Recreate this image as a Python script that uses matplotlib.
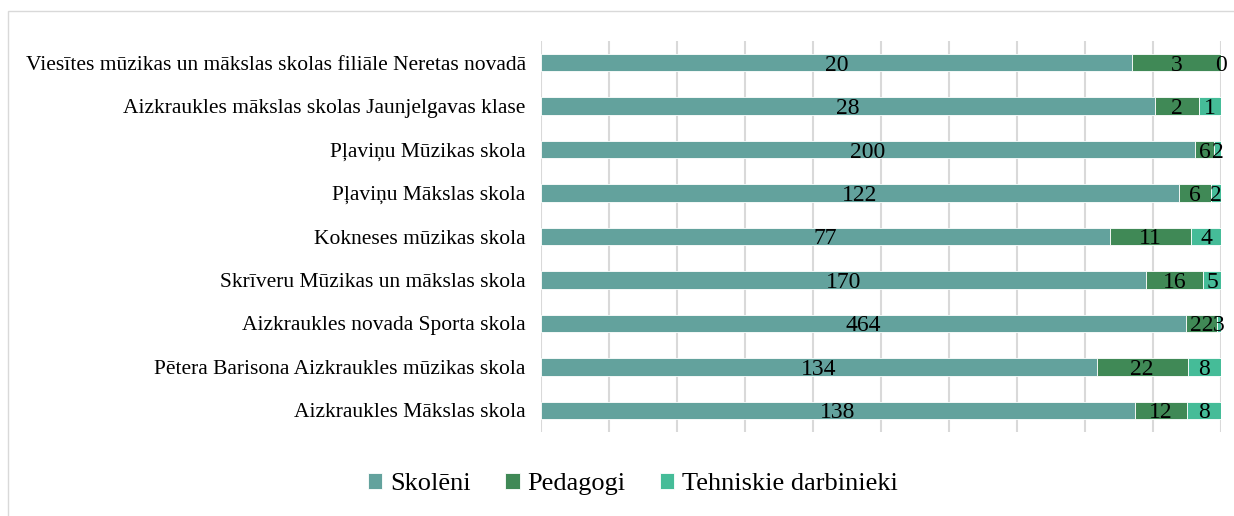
import matplotlib
matplotlib.use("Agg")
import matplotlib.pyplot as plt
from matplotlib.patches import Rectangle
import numpy as np

plt.rcParams['font.family'] = ['Liberation Serif', 'DejaVu Serif']

# schools, top to bottom as in the chart
schools = [
    "Viesītes mūzikas un mākslas skolas filiāle Neretas novadā",
    "Aizkraukles mākslas skolas Jaunjelgavas klase",
    "Pļaviņu Mūzikas skola",
    "Pļaviņu Mākslas skola",
    "Kokneses mūzikas skola",
    "Skrīveru Mūzikas un mākslas skola",
    "Aizkraukles novada Sporta skola",
    "Pētera Barisona Aizkraukles mūzikas skola",
    "Aizkraukles Mākslas skola",
]
skoleni = [20, 28, 200, 122, 77, 170, 464, 134, 138]
pedagogi = [3, 2, 6, 6, 11, 16, 22, 22, 12]
tehniskie = [0, 1, 2, 2, 4, 5, 3, 8, 8]

series_names = ["Skolēni", "Pedagogi", "Tehniskie darbinieki"]
colors = ["#63A29D", "#408956", "#45BC98"]

data = np.array([skoleni, pedagogi, tehniskie], dtype=float)
totals = data.sum(axis=0)
shares = data / totals

fig = plt.figure(figsize=(12.34, 5.16), dpi=100)
# light frame round the chart area (cropped on right/bottom in the source)
fig.patches.append(Rectangle((8 / 1234, -0.1), 1.2, 1 - 11 / 516 + 0.1,
                             transform=fig.transFigure, fill=False,
                             edgecolor="#d9d9d9", linewidth=1))

ax = fig.add_axes([541 / 1234, 1 - 432 / 516, 680 / 1234, 391 / 516])

y = np.arange(len(schools))
left = np.zeros(len(schools))
for i in range(3):
    bars = ax.barh(y, shares[i], left=left, height=0.4, color=colors[i],
                   edgecolor="white", linewidth=0.6, label=series_names[i],
                   zorder=3)
    texts = ax.bar_label(bars, labels=[str(int(v)) for v in data[i]],
                         label_type="center", fontsize=17, color="black")
    for t in texts:
        t.set_verticalalignment("center_baseline")
    left += shares[i]

ax.set_xlim(0, 1)
ax.set_ylim(len(schools) - 0.5, -0.5)
ax.set_xticks(np.linspace(0, 1, 11))
ax.set_xticklabels([])
ax.tick_params(axis="x", length=0)
ax.tick_params(axis="y", length=0, pad=11, labelsize=15.5)
ax.set_yticks(y)
ax.set_yticklabels(schools)
ax.grid(axis="x", color="#d9d9d9", linewidth=1.5, zorder=0)
for s in ax.spines.values():
    s.set_visible(False)

fig.legend(loc="center", bbox_to_anchor=(633 / 1234, 1 - 484 / 516), ncol=3,
           frameon=False, fontsize=19, handlelength=0.55, handleheight=0.55,
           handletextpad=0.3, columnspacing=1.3)

fig.savefig("out.png", dpi=100)
